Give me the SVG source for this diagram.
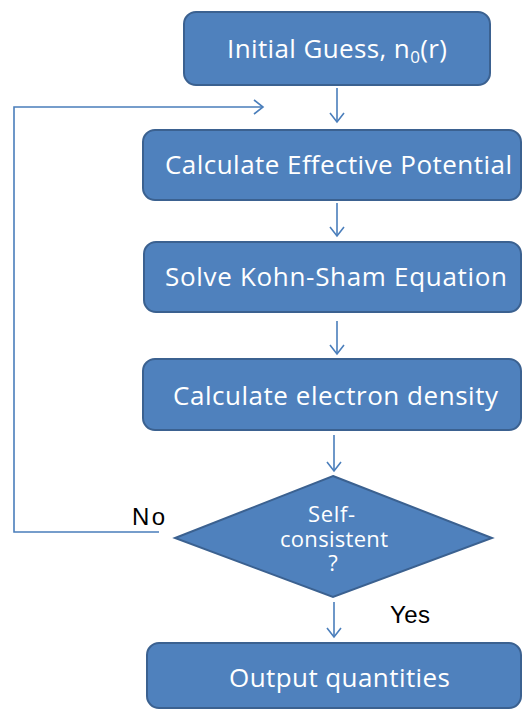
<svg xmlns="http://www.w3.org/2000/svg" width="523" height="710" viewBox="0 0 523 710">
<style>
.box{fill:#4f81bd;stroke:#3b6190;stroke-width:2}
.bt{font-family:"Open Sans","Liberation Sans",sans-serif;font-size:26px;fill:#ffffff;text-anchor:middle}
.dt{font-family:"Open Sans","Liberation Sans",sans-serif;font-size:22px;fill:#ffffff;text-anchor:middle}
.lbl{font-family:"Liberation Sans",Arial,sans-serif;font-size:24px;fill:#000000}
.con{fill:none;stroke:#4a7ebb;stroke-width:1.6}
</style>
<defs>
<marker id="ah" markerUnits="userSpaceOnUse" markerWidth="12" markerHeight="16" refX="10" refY="8" orient="auto">
<path d="M1,1 L10,8 L1,15" fill="none" stroke="#4a7ebb" stroke-width="1.6"/>
</marker>
</defs>
<rect width="523" height="710" fill="#ffffff"/>
<g id="connectors">
<line class="con" x1="337" y1="88" x2="337" y2="122" marker-end="url(#ah)"/>
<line class="con" x1="337" y1="203" x2="337" y2="236" marker-end="url(#ah)"/>
<line class="con" x1="337" y1="321" x2="337" y2="354" marker-end="url(#ah)"/>
<line class="con" x1="334" y1="435" x2="334" y2="471" marker-end="url(#ah)"/>
<line class="con" x1="334" y1="602" x2="334" y2="637" marker-end="url(#ah)"/>
<polyline class="con" points="159,532 14,532 14,107 263,107" marker-end="url(#ah)"/>
</g>
<g id="node-initial">
<rect class="box" x="184" y="12" width="306" height="73" rx="12"/>
<text class="bt" x="337" y="58" textLength="220">Initial Guess, n<tspan font-size="17" dy="5">0</tspan><tspan dy="-5">(r)</tspan></text>
</g>
<g id="node-potential">
<rect class="box" x="143" y="130" width="378" height="70" rx="12"/>
<text class="bt" x="338.5" y="174" textLength="347">Calculate Effective Potential</text>
</g>
<g id="node-kohnsham">
<rect class="box" x="144" y="242" width="377" height="70" rx="12"/>
<text class="bt" x="336" y="286" textLength="342">Solve Kohn-Sham Equation</text>
</g>
<g id="node-density">
<rect class="box" x="143" y="359" width="378" height="71" rx="12"/>
<text class="bt" x="335.5" y="405" textLength="325">Calculate electron density</text>
</g>
<g id="node-decision">
<polygon class="box" points="333,476 492,538 333,597 175,538"/>
<text class="dt"><tspan x="331.5" y="522" textLength="47">Self-</tspan><tspan x="334" y="547" textLength="108">consistent</tspan><tspan x="333" y="571">?</tspan></text>
</g>
<g id="node-output">
<rect class="box" x="147" y="643" width="374" height="65" rx="12"/>
<text class="bt" x="339.5" y="687" textLength="221">Output quantities</text>
</g>
<g id="labels">
<text class="lbl" x="132" y="525" textLength="33">No</text>
<text class="lbl" x="390" y="623" textLength="40">Yes</text>
</g>
</svg>
